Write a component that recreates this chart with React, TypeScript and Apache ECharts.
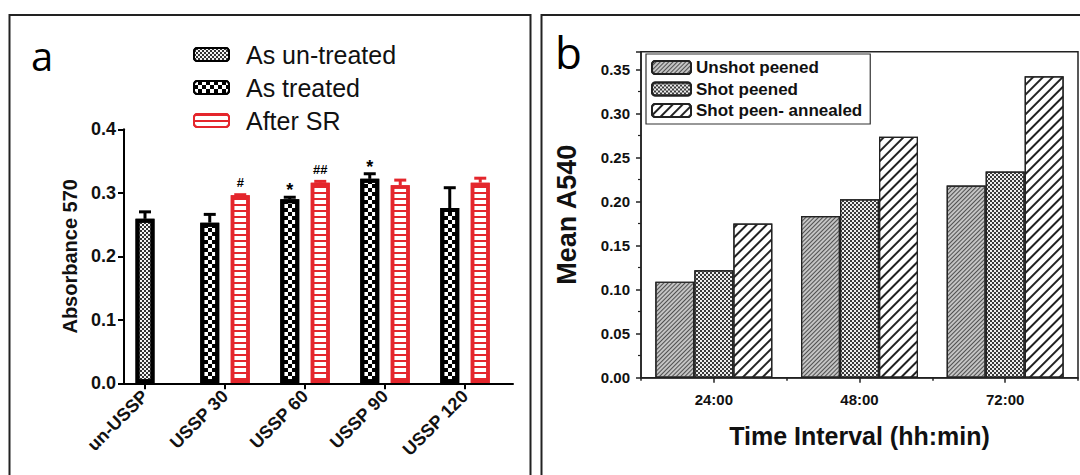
import React, { useEffect, useRef } from 'react';
import * as echarts from 'echarts';

// ---------- Panel a data ----------
const categoriesA = ['un-USSP', 'USSP 30', 'USSP 60', 'USSP 90', 'USSP 120'];
const untreatedVals = [0.259, null, null, null, null];
const untreatedErr = [0.011, null, null, null, null];
const treatedVals = [null, 0.253, 0.29, 0.322, 0.276];
const treatedErr = [null, 0.013, 0.003, 0.008, 0.032];
const treatedSig = ['', '', '*', '*', ''];
const afterSRVals = [null, 0.296, 0.316, 0.312, 0.316];
const afterSRErr = [null, 0.001, 0.002, 0.008, 0.007];
const afterSRSig = ['', '#', '##', '', ''];

// ---------- Panel b data ----------
const categoriesB = ['24:00', '48:00', '72:00'];
const unshotVals = [0.109, 0.1835, 0.218];
const shotVals = [0.122, 0.2025, 0.234];
const annealedVals = [0.175, 0.2735, 0.342];

const FONT = 'Liberation Sans';
const RED = '#e4262c';
const BAR_W = 19;
const BAR_GAP_PX = 11.5;
const HALF = (BAR_W + BAR_GAP_PX) / 2;

function errSeries(name: string, xAxisIndex: number, values: any[], errs: any[], sigs: string[] | null, offset: number, color: string) {
  const data: number[][] = [];
  values.forEach((v, i) => {
    if (v != null) data.push([i, v, errs[i] ?? 0]);
  });
  return {
    type: 'custom',
    name,
    xAxisIndex,
    yAxisIndex: 0,
    z: 4,
    silent: true,
    encode: { x: 0, y: 1 },
    itemStyle: { decal: 'none' },
    data,
    renderItem: (params: any, api: any) => {
      const i = api.value(0);
      const v = api.value(1);
      const e = api.value(2);
      const p0 = api.coord([i, v]);
      const p1 = api.coord([i, v + e]);
      const x = p0[0] + offset;
      const children: any[] = [];
      if (e > 0) {
        children.push({ type: 'line', shape: { x1: x, y1: p0[1], x2: x, y2: p1[1] }, style: { stroke: color, lineWidth: 3 } });
        children.push({ type: 'line', shape: { x1: x - 6, y1: p1[1], x2: x + 6, y2: p1[1] }, style: { stroke: color, lineWidth: 3 } });
      }
      const s = sigs ? sigs[i] : '';
      if (s) {
        const star = s[0] === '*';
        children.push({
          type: 'text',
          style: {
            text: s,
            x,
            y: p1[1] - (star ? 7 : 12),
            align: 'center',
            verticalAlign: 'middle',
            font: `bold ${star ? 18 : 13}px "${FONT}"`,
            fill: '#000',
          },
        });
      }
      return { type: 'group', children };
    },
  };
}

export default function App() {
  const ref = useRef<HTMLDivElement>(null);
  useEffect(() => {
    if (!ref.current) return;
    const chart = echarts.init(ref.current, null, { renderer: 'svg' });
    const option: any = {
      animation: false,
      backgroundColor: '#fff',
      aria: { enabled: true, decal: { show: true } },
      graphic: [
        { type: 'rect', shape: { x: 9.5, y: 15, width: 521, height: 520 }, style: { fill: 'none', stroke: '#222', lineWidth: 2 }, silent: true },
        { type: 'rect', shape: { x: 541.5, y: 15, width: 600, height: 520 }, style: { fill: 'none', stroke: '#222', lineWidth: 2 }, silent: true },
        { type: 'text', style: { text: 'a', x: 31, y: 55, font: `40px "Open Sans"`, fill: '#000', verticalAlign: 'middle' } },
        { type: 'text', style: { text: 'b', x: 555, y: 52, font: `44px "Open Sans"`, fill: '#000', verticalAlign: 'middle' } },
      ],
      legend: [
        {
          data: ['As un-treated', 'As treated', 'After SR'],
          orient: 'vertical',
          left: 193,
          top: 42,
          padding: 0,
          itemWidth: 35,
          itemHeight: 13,
          itemGap: 8,
          selectedMode: false,
          textStyle: { fontSize: 25, fontFamily: FONT, color: '#111', padding: [0, 0, 0, 12] },
        },
        {
          data: ['Unshot peened', 'Shot peened', 'Shot peen- annealed'],
          orient: 'vertical',
          left: 646,
          top: 54,
          padding: [5, 8, 5, 5],
          itemWidth: 39,
          itemHeight: 13,
          itemGap: 4.5,
          selectedMode: false,
          borderColor: '#333',
          borderWidth: 1.2,
          backgroundColor: '#fff',
          textStyle: { fontSize: 17, fontWeight: 'bold', fontFamily: FONT, color: '#111' },
        },
      ],
      grid: [
        { left: 105, top: 129.3, width: 400, height: 254 },
        { left: 124, top: 129.3, width: 389, height: 254 },
        { left: 641, top: 51.7, width: 437, height: 326, show: true, borderColor: '#222', borderWidth: 1.5, backgroundColor: 'transparent' },
      ],
      xAxis: [
        {
          gridIndex: 0,
          type: 'category',
          data: categoriesA,
          position: 'bottom',
          axisLine: { show: false },
          axisTick: { show: true, alignWithLabel: true, length: 6, lineStyle: { color: '#000', width: 2 } },
          axisLabel: { rotate: 45, fontSize: 18, fontWeight: 'bold', fontFamily: FONT, color: '#111', margin: 10 },
        },
        { gridIndex: 0, type: 'category', data: categoriesA, show: false, position: 'bottom' },
        {
          gridIndex: 1,
          type: 'value',
          min: 0,
          max: 1,
          z: 5,
          position: 'bottom',
          axisLine: { show: true, lineStyle: { color: '#000', width: 2 } },
          axisTick: { show: false },
          axisLabel: { show: false },
          splitLine: { show: false },
        },
        {
          gridIndex: 2,
          type: 'category',
          data: categoriesB,
          position: 'bottom',
          axisLine: { show: true, lineStyle: { color: '#222', width: 1.5 } },
          axisTick: { show: true, alignWithLabel: true, length: 5, lineStyle: { color: '#222', width: 1.5 } },
          axisLabel: { fontSize: 15, fontWeight: 'bold', fontFamily: FONT, color: '#111', margin: 14 },
          name: 'Time Interval (hh:min)',
          nameLocation: 'middle',
          nameGap: 46,
          nameTextStyle: { fontSize: 25, fontWeight: 'bold', fontFamily: FONT, color: '#111' },
        },
        {
          gridIndex: 2,
          type: 'category',
          data: categoriesB,
          position: 'bottom',
          axisLine: { show: false },
          axisTick: { show: true, length: 3, lineStyle: { color: '#222', width: 1.5 } },
          axisLabel: { show: false },
        },
      ],
      yAxis: [
        { gridIndex: 0, type: 'value', min: 0, max: 0.4, show: false },
        {
          gridIndex: 1,
          type: 'value',
          min: 0,
          max: 0.4,
          interval: 0.1,
          axisLine: { show: true, lineStyle: { color: '#000', width: 2 } },
          axisTick: { show: true, length: 6, lineStyle: { color: '#000', width: 2 } },
          axisLabel: { fontSize: 18, fontWeight: 'bold', fontFamily: FONT, color: '#111', margin: 8, formatter: (v: number) => v.toFixed(1) },
          splitLine: { show: false },
          name: 'Absorbance 570',
          nameLocation: 'middle',
          nameGap: 44,
          nameTextStyle: { fontSize: 20, fontWeight: 'bold', fontFamily: FONT, color: '#111' },
        },
        {
          gridIndex: 2,
          type: 'value',
          min: 0,
          max: 0.37,
          interval: 0.05,
          axisLine: { show: true, lineStyle: { color: '#222', width: 1.5 } },
          axisTick: { show: true, length: 5, lineStyle: { color: '#222', width: 1.5 } },
          minorTick: { show: true, splitNumber: 2, length: 3, lineStyle: { color: '#222', width: 1.2 } },
          axisLabel: { fontSize: 15, fontWeight: 'bold', fontFamily: FONT, color: '#111', margin: 11, showMaxLabel: false, formatter: (v: number) => v.toFixed(2) },
          splitLine: { show: false },
          name: 'Mean A540',
          nameLocation: 'middle',
          nameGap: 61,
          nameTextStyle: { fontSize: 27, fontWeight: 'bold', fontFamily: FONT, color: '#111' },
        },
      ],
      series: [
        {
          type: 'bar',
          name: 'As un-treated',
          xAxisIndex: 1,
          yAxisIndex: 0,
          barWidth: BAR_W,
          data: untreatedVals,
          itemStyle: {
            color: '#f4f4f4',
            borderColor: '#000',
            borderWidth: 4,
            decal: { symbol: 'rect', symbolSize: 1, color: '#333', dashArrayX: [[2, 2], [0, 2, 2, 0]], dashArrayY: [2, 0], rotation: 0 },
          },
        },
        {
          type: 'bar',
          name: 'As treated',
          xAxisIndex: 0,
          yAxisIndex: 0,
          barWidth: BAR_W,
          barGap: (BAR_GAP_PX / BAR_W) * 100 + '%',
          data: treatedVals,
          itemStyle: {
            color: '#fff',
            borderColor: '#000',
            borderWidth: 4,
            decal: { symbol: 'rect', symbolSize: 1, color: '#000', dashArrayX: [[4, 4], [0, 4, 4, 0]], dashArrayY: [4, 0], rotation: 0 },
          },
        },
        {
          type: 'bar',
          name: 'After SR',
          xAxisIndex: 0,
          yAxisIndex: 0,
          barWidth: BAR_W,
          barGap: (BAR_GAP_PX / BAR_W) * 100 + '%',
          data: afterSRVals,
          itemStyle: {
            color: '#fff',
            borderColor: RED,
            borderWidth: 3.5,
            decal: { symbol: 'rect', symbolSize: 1, color: RED, dashArrayX: [1, 0], dashArrayY: [1.6, 3.4], rotation: 0 },
          },
        },
        errSeries('err-untreated', 1, untreatedVals, untreatedErr, null, 0, '#000'),
        errSeries('err-treated', 0, treatedVals, treatedErr, treatedSig, -HALF, '#000'),
        errSeries('err-sr', 0, afterSRVals, afterSRErr, afterSRSig, HALF, RED),
        {
          type: 'bar',
          name: 'Unshot peened',
          xAxisIndex: 3,
          yAxisIndex: 2,
          barWidth: 39,
          barGap: '0%',
          data: unshotVals,
          itemStyle: {
            color: '#c4c4c4',
            borderColor: '#222',
            borderWidth: 1.2,
            decal: { symbol: 'rect', symbolSize: 1, color: '#505050', dashArrayX: [1, 0], dashArrayY: [1, 2], rotation: -Math.PI / 4 },
          },
        },
        {
          type: 'bar',
          name: 'Shot peened',
          xAxisIndex: 3,
          yAxisIndex: 2,
          barWidth: 39,
          barGap: '0%',
          data: shotVals,
          itemStyle: {
            color: '#eeeeee',
            borderColor: '#222',
            borderWidth: 1.2,
            decal: { symbol: 'rect', symbolSize: 1, color: '#3a3a3a', dashArrayX: [[2, 2], [0, 2, 2, 0]], dashArrayY: [2, 0], rotation: 0 },
          },
        },
        {
          type: 'bar',
          name: 'Shot peen- annealed',
          xAxisIndex: 3,
          yAxisIndex: 2,
          barWidth: 39,
          barGap: '0%',
          data: annealedVals,
          itemStyle: {
            color: '#ffffff',
            borderColor: '#222',
            borderWidth: 1.2,
            decal: { symbol: 'rect', symbolSize: 1, color: '#222', dashArrayX: [1, 0], dashArrayY: [1.3, 4.5], rotation: -Math.PI / 4 },
          },
        },
      ],
    };
    chart.setOption(option);
    return () => chart.dispose();
  }, []);
  return <div ref={ref} style={{ position: 'absolute', left: 0, top: 0, width: 1080, height: 475 }} />;
}
